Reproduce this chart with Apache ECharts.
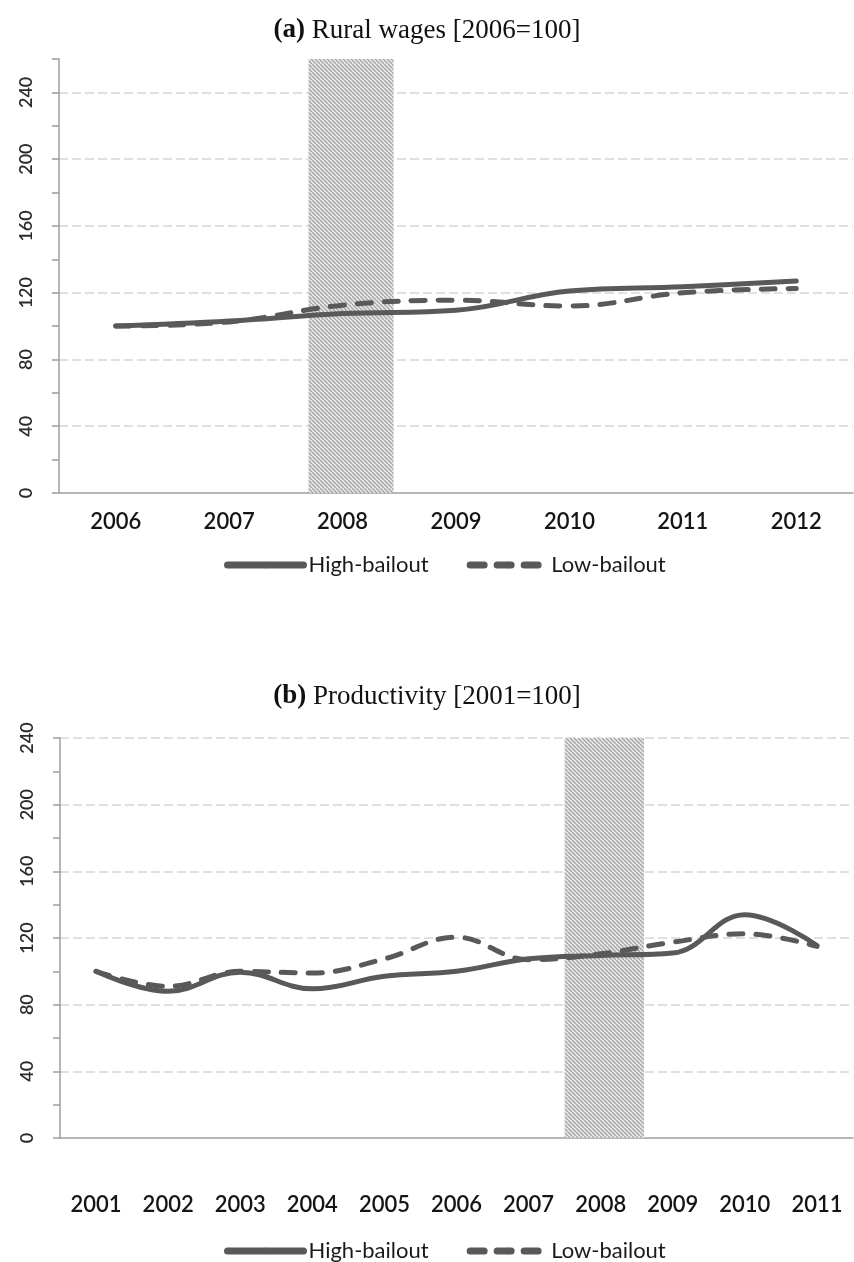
<!DOCTYPE html>
<html>
<head>
<meta charset="utf-8">
<script src="https://cdn.jsdelivr.net/npm/echarts@6/dist/echarts.min.js"></script>
<style>
  html, body { margin: 0; padding: 0; background: #ffffff; }
  #chart { width: 854px; height: 1262px; }
</style>
</head>
<body>
<div id="chart"></div>
<script>
// Panel (a): rural wages, index 2006 = 100
const yearsA = ['2006', '2007', '2008', '2009', '2010', '2011', '2012'];
const highA = [100, 103, 107.5, 109.5, 121, 123.5, 127];
const lowA = [100, 102.5, 112.5, 115.5, 112, 120, 122.5];

// Panel (b): productivity, index 2001 = 100
const yearsB = ['2001', '2002', '2003', '2004', '2005', '2006', '2007', '2008', '2009', '2010', '2011'];
const highB = [100, 88, 99.5, 89.5, 97, 100, 107.5, 109.5, 111, 134, 115.5];
const lowB = [100, 91, 100, 99, 107.5, 120.5, 107, 110.5, 117.5, 122.5, 115];

// Crisis period shading, in years
const crisisA = [2007.7, 2008.45];
const crisisB = [2007.5, 2008.6];

// Value axes
const yMaxA = 260;
const yMaxB = 240;
const yLabelStep = 40;
const yTickStep = 20;

const seriesNames = ['High-bailout', 'Low-bailout'];

// Hatched fill for the crisis band
function makeHatch() {
  const c = document.createElement('canvas');
  c.width = 8; c.height = 8;
  const g = c.getContext('2d');
  g.fillStyle = '#ebebeb';
  g.fillRect(0, 0, 8, 8);
  g.strokeStyle = '#a8a8a8';
  g.lineWidth = 1.5;
  for (let k = -8; k <= 16; k += 4) {
    g.beginPath();
    g.moveTo(k, 0);
    g.lineTo(k + 8, 8);
    g.stroke();
  }
  return c;
}
const hatch = { image: makeHatch(), repeat: 'repeat' };

const lineColor = '#595959';
const tickFont = { fontFamily: 'Lato', fontSize: 22, fontWeight: 600, color: '#151515' };
const yFont = { fontFamily: 'Lato', fontSize: 18, fontWeight: 600, color: '#2a2a2a' };

function bandSeries(xIdx, yIdx, range) {
  return {
    type: 'custom',
    xAxisIndex: xIdx,
    yAxisIndex: yIdx,
    silent: true,
    z: 1,
    data: [[range[0], range[1]]],
    renderItem: function (params, api) {
      const a = api.coord([api.value(0), 0]);
      const b = api.coord([api.value(1), 0]);
      const cs = params.coordSys;
      return {
        type: 'rect',
        shape: { x: a[0], y: cs.y, width: b[0] - a[0], height: cs.height },
        style: { fill: hatch }
      };
    }
  };
}

function lineSeries(name, data, xIdx, yIdx, dashed) {
  return {
    name: name,
    type: 'line',
    xAxisIndex: xIdx,
    yAxisIndex: yIdx,
    data: data,
    smooth: 0.4,
    symbol: 'none',
    showSymbol: false,
    z: 3,
    lineStyle: {
      color: lineColor,
      width: 5,
      type: dashed ? [14, 13] : 'solid',
      cap: 'round',
      join: 'round'
    },
    itemStyle: { color: lineColor }
  };
}

function tickAxis(gridIndex, max) {
  return {
    type: 'value', gridIndex: gridIndex, position: 'left', min: 0, max: max, interval: yTickStep,
    axisLine: { show: true, lineStyle: { color: '#9f9f9f', width: 1.5 } },
    axisTick: { show: true, length: 7, lineStyle: { color: '#9f9f9f', width: 1.5 } },
    axisLabel: { show: false },
    splitLine: { show: false }
  };
}

function labelAxis(gridIndex, max, showTop) {
  return {
    type: 'value', gridIndex: gridIndex, position: 'left', offset: 0,
    min: 0, max: max, interval: yLabelStep,
    axisLine: { show: false },
    axisTick: { show: false },
    axisLabel: Object.assign({
      rotate: 90, margin: 24,
      formatter: function (v) { return v % yLabelStep === 0 ? String(v) : ''; }
    }, yFont),
    splitLine: {
      show: true, showMinLine: false, showMaxLine: showTop,
      lineStyle: { color: '#d6d6d6', width: 1.5, type: [9, 4] }
    }
  };
}

const titleStyle = {
  fontFamily: 'Liberation Serif', fontSize: 27, color: '#111111', fontWeight: 'normal',
  rich: { b: { fontFamily: 'Liberation Serif', fontSize: 27, fontWeight: 'bold', color: '#111111' } }
};

const legendBase = {
  data: seriesNames,
  left: 219,
  itemWidth: 76,
  itemHeight: 8,
  itemGap: 38,
  textStyle: { fontFamily: 'Lato', fontSize: 22, color: '#1a1a1a' },
  lineStyle: { width: 7, cap: 'round' },
  selectedMode: false
};

const chart = echarts.init(document.getElementById('chart'), null, { renderer: 'canvas' });
chart.setOption({
  animation: false,
  backgroundColor: '#ffffff',
  title: [
    { text: '{b|(a)} Rural wages [2006=100]', left: 'center', top: 12, textStyle: titleStyle },
    { text: '{b|(b)} Productivity [2001=100]', left: 'center', top: 678, textStyle: titleStyle }
  ],
  legend: [
    Object.assign({ top: 549 }, legendBase),
    Object.assign({ top: 1235 }, legendBase)
  ],
  grid: [
    { left: 59, top: 59, width: 794, height: 434, outerBoundsMode: 'none', containLabel: false },
    { left: 60, top: 738, width: 793, height: 400, outerBoundsMode: 'none', containLabel: false }
  ],
  xAxis: [
    {
      type: 'category', gridIndex: 0, data: yearsA, boundaryGap: true,
      axisLine: { lineStyle: { color: '#9f9f9f', width: 1.5 } },
      axisTick: { show: false },
      axisLabel: Object.assign({ margin: 18, interval: 0 }, tickFont)
    },
    {
      type: 'value', gridIndex: 0, show: false,
      min: Number(yearsA[0]) - 0.5, max: Number(yearsA[yearsA.length - 1]) + 0.5
    },
    {
      type: 'category', gridIndex: 1, data: yearsB, boundaryGap: true,
      axisLine: { lineStyle: { color: '#9f9f9f', width: 1.5 } },
      axisTick: { show: false },
      axisLabel: Object.assign({ margin: 56, interval: 0 }, tickFont)
    },
    {
      type: 'value', gridIndex: 1, show: false,
      min: Number(yearsB[0]) - 0.5, max: Number(yearsB[yearsB.length - 1]) + 0.5
    }
  ],
  yAxis: [
    tickAxis(0, yMaxA),
    labelAxis(0, yMaxA, false),
    tickAxis(1, yMaxB),
    labelAxis(1, yMaxB, true)
  ],
  series: [
    bandSeries(1, 0, crisisA),
    lineSeries(seriesNames[0], highA, 0, 0, false),
    lineSeries(seriesNames[1], lowA, 0, 0, true),
    bandSeries(3, 2, crisisB),
    lineSeries(seriesNames[0], highB, 2, 2, false),
    lineSeries(seriesNames[1], lowB, 2, 2, true)
  ]
});
</script>
</body>
</html>
